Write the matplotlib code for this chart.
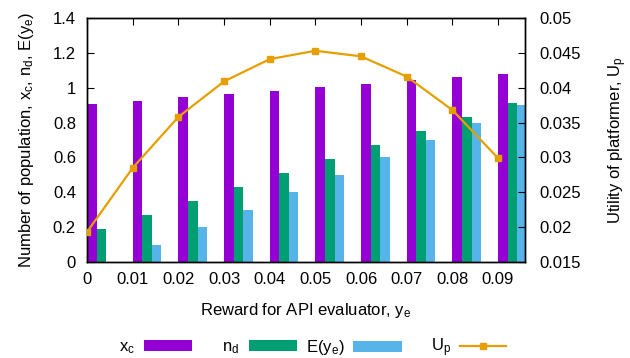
import numpy as np
import matplotlib
matplotlib.use('Agg')
import matplotlib.pyplot as plt
from matplotlib.patches import Patch
from matplotlib.lines import Line2D

# ---- data ----
ye = [0.00, 0.01, 0.02, 0.03, 0.04, 0.05, 0.06, 0.07, 0.08, 0.09]
xc = [0.905, 0.925, 0.945, 0.964, 0.983, 1.002, 1.021, 1.042, 1.060, 1.080]
nd = [0.19, 0.27, 0.35, 0.43, 0.51, 0.59, 0.67, 0.75, 0.83, 0.91]
E_ye = [0.0, 0.1, 0.2, 0.3, 0.4, 0.5, 0.6, 0.7, 0.8, 0.9]
Up = [0.0193, 0.0285, 0.0358, 0.0409, 0.0441, 0.0453, 0.0445, 0.0416, 0.0368, 0.0299]

xtick_labels = ['0', '0.01', '0.02', '0.03', '0.04', '0.05', '0.06', '0.07', '0.08', '0.09']
yl_ticks = [0, 0.2, 0.4, 0.6, 0.8, 1.0, 1.2, 1.4]
yl_labels = ['0', '0.2', '0.4', '0.6', '0.8', '1', '1.2', '1.4']
yr_ticks = [0.015, 0.02, 0.025, 0.03, 0.035, 0.04, 0.045, 0.05]
yr_labels = ['0.015', '0.02', '0.025', '0.03', '0.035', '0.04', '0.045', '0.05']

PURPLE = '#9400D3'
GREEN = '#009E73'
BLUE = '#56B4E9'
ORANGE = '#E69F00'

plt.rcParams['font.family'] = ['Liberation Sans', 'DejaVu Sans']
plt.rcParams['mathtext.fontset'] = 'custom'
plt.rcParams['mathtext.rm'] = 'Liberation Sans'
plt.rcParams['mathtext.it'] = 'Liberation Sans'
plt.rcParams['mathtext.bf'] = 'Liberation Sans:bold'
FS = 12

W, H = 630, 358
fig = plt.figure(figsize=(W / 100, H / 100), dpi=100)
ax = fig.add_axes([87 / W, 1 - 262 / H, (524.5 - 87) / W, (262 - 18) / H])
ax2 = ax.twinx()

bw = 0.0021
x = np.array(ye)
ax.bar(x, xc, bw, align='edge', color=PURPLE, linewidth=0, zorder=2)
ax.bar(x + bw, nd, bw, align='edge', color=GREEN, linewidth=0, zorder=2)
ax.bar(x + 2 * bw, E_ye, bw, align='edge', color=BLUE, linewidth=0, zorder=2)
ax.set_axisbelow(True)

ax2.plot(ye, Up, color=ORANGE, lw=1.6, marker='s', ms=5, zorder=3)

ax.set_xlim(0, 0.0958)
ax.set_ylim(0, 1.4)
ax2.set_ylim(0.015, 0.05)

ax.set_xticks(ye)
ax.set_xticklabels(xtick_labels, fontsize=FS)
ax.set_yticks(yl_ticks)
ax.set_yticklabels(yl_labels, fontsize=FS)
ax2.set_yticks(yr_ticks)
ax2.set_yticklabels(yr_labels, fontsize=FS)

ax.tick_params(axis='x', direction='in', top=True, bottom=True, length=5, width=0.8, pad=7.5)
ax.tick_params(axis='y', direction='in', left=True, right=False, length=5, width=0.8, pad=8)
ax2.tick_params(axis='y', direction='in', right=True, length=5, width=0.8, pad=10.5)

for a in (ax, ax2):
    for s in a.spines.values():
        s.set_linewidth(1.0)
        s.set_color('black')

fig.text(305.5 / W, 1 - 315 / H, r'Reward for API evaluator, $\mathregular{y_e}$',
         ha='center', va='baseline', fontsize=FS)
fig.text(27 / W, 1 - 140 / H, r'Number of population, $\mathregular{x_c}$, $\mathregular{n_d}$, $\mathregular{E(y_e)}$',
         ha='center', va='center', rotation=90, fontsize=FS)
fig.text(618 / W, 1 - 140 / H, r'Utility of platformer, $\mathregular{U_p}$',
         ha='center', va='center', rotation=90, fontsize=FS)

# legend entries (text right-justified before the sample, gnuplot style)
entries = [
    (Patch(facecolor=PURPLE, linewidth=0), r'$\mathregular{x_c}$', 192.3, 2.9),
    (Patch(facecolor=GREEN, linewidth=0), r'$\mathregular{n_d}$', 297.0, 2.9),
    (Patch(facecolor=BLUE, linewidth=0), r'$\mathregular{E(y_e)}$', 401.7, 2.9),
    (Line2D([], [], color=ORANGE, lw=1.6, marker='s', ms=5), r'$\mathregular{U_p}$', 506.0, 2.75),
]
for h, lab, xe, hl in entries:
    fig.legend([h], [lab], loc='center right', bbox_to_anchor=(xe / W, 1 - 347.7 / H),
               frameon=False, markerfirst=False, borderpad=0, borderaxespad=0,
               handlelength=hl, handleheight=0.68, handletextpad=0.55, fontsize=FS)

fig.savefig('out.png', dpi=100)
